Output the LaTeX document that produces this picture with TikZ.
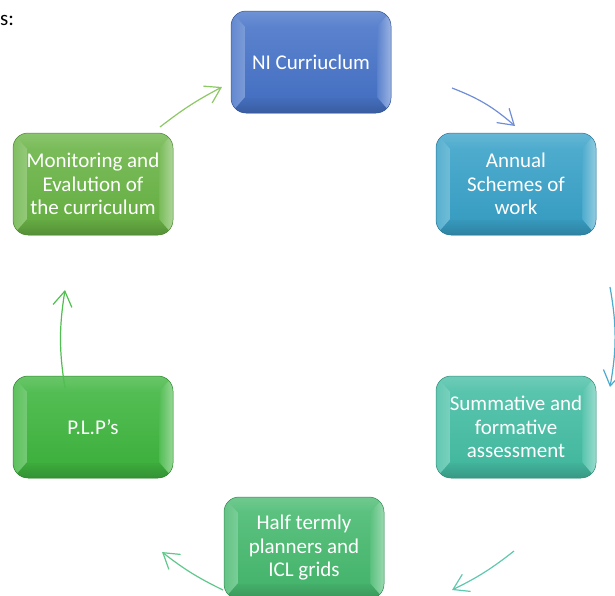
\documentclass[tikz,border=0pt]{standalone}
\usepackage{fontspec}
\setmainfont{Carlito}[Ligatures=ResetAll]
\usetikzlibrary{arrows.meta,calc}
\definecolor{niblue}{RGB}{72,116,200}
\definecolor{annual}{RGB}{58,162,200}
\definecolor{summ}{RGB}{70,190,164}
\definecolor{half}{RGB}{72,186,112}
\definecolor{plp}{RGB}{64,182,64}
\definecolor{moni}{RGB}{106,180,70}
\definecolor{aone}{RGB}{112,142,215}
\definecolor{atwo}{RGB}{75,170,205}
\definecolor{athree}{RGB}{95,200,175}
\definecolor{afour}{RGB}{95,200,140}
\definecolor{afive}{RGB}{80,190,80}
\definecolor{asix}{RGB}{140,200,100}
\tikzset{
  box/.style={rounded corners=15pt, minimum width=160pt, minimum height=102pt,
    inner sep=0pt, text=white, align=center,
    font=\fontsize{21}{23.5}\selectfont,
    top color=#1!75!white, bottom color=#1!85!black,
    draw=#1!75!black, line width=0.5pt,
    path picture={
      \path (path picture bounding box.north west) coordinate (pNW)
            (path picture bounding box.north east) coordinate (pNE)
            (path picture bounding box.south west) coordinate (pSW)
            (path picture bounding box.south east) coordinate (pSE);
      \begin{scope}[sharp corners]
      \shade[top color=#1!78!white, bottom color=#1!90!white] (pNW) -- ($(pNW)+(14,-16)$) -- ($(pNE)+(-14,-16)$) -- (pNE) -- cycle;
      \shade[top color=#1!95!black, bottom color=#1!80!black] (pSW) -- ($(pSW)+(14,16)$) -- ($(pSE)+(-14,16)$) -- (pSE) -- cycle;
      \shade[left color=#1!85!white, right color=#1!72!white] (pNW) -- ($(pNW)+(14,-16)$) -- ($(pSW)+(14,16)$) -- (pSW) -- cycle;
      \shade[left color=#1!90!white, right color=#1!55!white] (pNE) -- ($(pNE)+(-14,-16)$) -- ($(pSE)+(-14,16)$) -- (pSE) -- cycle;
      \shade[top color=#1!90!white, bottom color=#1!97!black] ($(pNW)+(14,-16)$) rectangle ($(pSE)+(-14,16)$);
      \end{scope}
    }},
  arr/.style={-{Straight Barb[length=15pt,width=19pt]}, line width=1.2pt, draw=#1},
}
\begin{document}
\begin{tikzpicture}[x=1pt,y=1pt]
\useasboundingbox (0,0) rectangle (615,-595);
\node[anchor=base west, inner sep=0pt, font=\fontsize{21}{23.5}\selectfont] (lead) at (0,-25) {s:};
\node[box=niblue] (ni) at (311,-62) {NI Curriuclum};
\node[box=annual] (an) at (516,-184) {Annual\\Schemes of\\work};
\node[box=summ] (su) at (516,-427) {Summative and\\formative\\assessment};
\node[box=half] (ha) at (304,-548) {Half termly\\planners and\\ICL grids};
\node[box=plp] (pl) at (93,-427) {P.L.P's};
\node[box=moni] (mo) at (93,-184) {Monitoring and\\Evalution of\\the curriculum};
\coordinate (a1s) at (452,-88);  \coordinate (a1e) at (515,-126);
\coordinate (a2s) at (610,-287); \coordinate (a2e) at (610,-387);
\coordinate (a3s) at (514,-551); \coordinate (a3e) at (452,-590);
\coordinate (a4s) at (223,-590); \coordinate (a4e) at (162,-552);
\coordinate (a5s) at (65,-388);  \coordinate (a5e) at (65,-290);
\coordinate (a6s) at (160,-127); \coordinate (a6e) at (222,-87);
\draw[arr=aone] (a1s) to[bend left=10] (a1e);
\draw[arr=atwo] (a2s) to[bend left=10] (a2e);
\draw[arr=athree] (a3s) to[bend left=6] (a3e);
\draw[arr=afour] (a4s) to[bend left=6] (a4e);
\draw[arr=afive] (a5s) to[bend left=9] (a5e);
\draw[arr=asix] (a6s) to[bend left=5] (a6e);
\end{tikzpicture}
\end{document}
